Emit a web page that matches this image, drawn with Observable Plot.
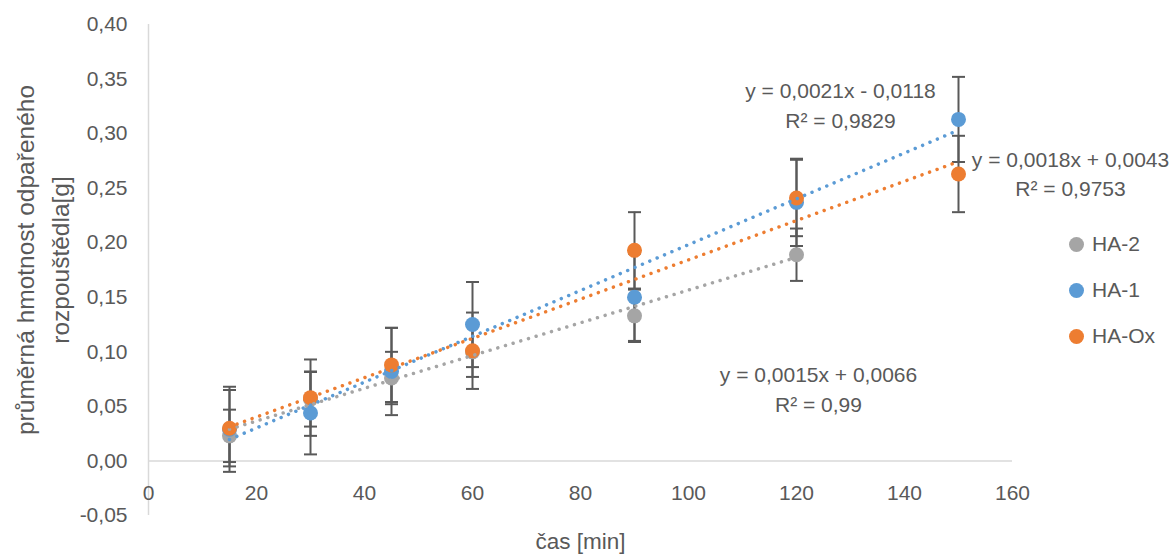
<!DOCTYPE html>
<html>
<head>
<meta charset="utf-8">
<script src="https://cdn.jsdelivr.net/npm/d3@7"></script>
<script src="https://cdn.jsdelivr.net/npm/@observablehq/plot@0.6"></script>
<style>
  body { margin: 0; background: #fff; }
  #chart { position: relative; width: 1175px; height: 556px; font-family: "Liberation Sans", Arial, sans-serif; color: #595959; }
  #legend { position: absolute; left: 1069px; top: 221px; }
  .item { display: flex; align-items: center; height: 46px; font-size: 21px; }
  .swatch { width: 15px; height: 15px; border-radius: 50%; margin-right: 8px; }
</style>
</head>
<body>
<div id="chart"><div id="legend"></div></div>
<script>
// Sampling times [min]
const times = [15, 30, 45, 60, 90, 120, 150];
const seriesNames = ["HA-2", "HA-1", "HA-Ox"];
const seriesColors = ["#A5A5A5", "#5B9BD5", "#ED7D31"];

// Mean evaporated solvent mass [g] per series (null = not measured)
const ha2Mass = [0.023, 0.0565, 0.076, 0.100, 0.133, 0.189, null];
const ha1Mass = [0.029, 0.044, 0.082, 0.125, 0.150, 0.237, 0.313];
const haOxMass = [0.030, 0.058, 0.088, 0.101, 0.193, 0.241, 0.263];

// Error bar half-widths [g]
const ha2Err = [0.024, 0.025, 0.024, 0.023, 0.024, 0.024, null];
const ha1Err = [0.039, 0.038, 0.040, 0.039, 0.040, 0.040, 0.039];
const haOxErr = [0.035, 0.035, 0.034, 0.035, 0.035, 0.035, 0.035];

// Linear trend coefficients and R²
const slopes = [0.0015, 0.0021, 0.0018];
const intercepts = [0.0066, -0.0118, 0.0043];
const rSquared = [0.99, 0.9829, 0.9753];

const xTicks = [0, 20, 40, 60, 80, 100, 120, 140, 160];
const yTicks = [-0.05, 0, 0.05, 0.10, 0.15, 0.20, 0.25, 0.30, 0.35, 0.40];

const xTitle = "čas [min]";
const yTitle = "průměrná hmotnost odpařeného\nrozpouštědla[g]";

const masses = [ha2Mass, ha1Mass, haOxMass];
const errors = [ha2Err, ha1Err, haOxErr];

const comma = (v, n) => v.toFixed(n).replace(".", ",");

// Long table of measured points
const rows = [];
masses.forEach((m, i) => {
  m.forEach((v, j) => {
    if (v != null) rows.push({s: i, x: times[j], y: v, e: errors[i][j]});
  });
});

// Trend lines from the fitted equations, over each series' measured range
const trend = [];
seriesNames.forEach((name, i) => {
  const xs = rows.filter(r => r.s === i).map(r => r.x);
  for (const x of [d3.min(xs), d3.max(xs)]) trend.push({s: i, x, y: slopes[i] * x + intercepts[i]});
});

// Equation labels, anchored to a measured point of their series
const eqText = i => {
  const b = intercepts[i];
  return `y = ${comma(slopes[i], 4)}x ${b < 0 ? "-" : "+"} ${comma(Math.abs(b), 4)}\nR² = ${String(rSquared[i]).replace(".", ",")}`;
};
const lastOf = i => rows.filter(r => r.s === i).at(-1);
const eqAnchors = [
  {...lastOf(0), dx: 22, dy: 133},
  {...lastOf(1), dx: -118, dy: -16},
  {...lastOf(2), dx: 112, dy: -2}
];

const capSymbol = {draw(ctx) { ctx.moveTo(-6.5, 0); ctx.lineTo(6.5, 0); }};
const ink = "#595959";
const axisGrey = "#D9D9D9";

const plot = Plot.plot({
  width: 1175,
  height: 556,
  marginLeft: 148,
  marginRight: 163,
  marginTop: 24,
  marginBottom: 41,
  style: {fontFamily: "'Liberation Sans', Arial, sans-serif", fontSize: "21px", color: ink, background: "transparent", overflow: "visible"},
  x: {domain: [0, 160], axis: null},
  y: {domain: [-0.05, 0.40], axis: null},
  marks: [
    Plot.ruleX([0], {stroke: axisGrey, strokeWidth: 1.5}),
    Plot.ruleY([0], {stroke: axisGrey, strokeWidth: 1.5}),
    Plot.axisY(yTicks, {tickSize: 0, tickPadding: 21, fontSize: 21, tickFormat: d => comma(d, 2), label: null}),
    Plot.text(xTicks, {x: d => d, y: () => 0, dy: 32, text: d => String(d), fontSize: 21, fill: ink}),
    Plot.text([xTitle], {frameAnchor: "bottom", dy: 33, text: d => d, fontSize: 22.5, fill: ink}),
    Plot.text([yTitle], {frameAnchor: "left", dx: -108, dy: -10, rotate: -90, textAnchor: "middle", lineAnchor: "middle", text: d => d, fontSize: 24.5, lineHeight: 1.42, fill: ink}),
    // error bars
    Plot.ruleX(rows, {x: "x", y1: d => d.y - d.e, y2: d => d.y + d.e, stroke: ink, strokeWidth: 2}),
    Plot.dot(rows, {x: "x", y: d => d.y + d.e, symbol: capSymbol, stroke: ink, strokeWidth: 2, fill: "none"}),
    Plot.dot(rows, {x: "x", y: d => d.y - d.e, symbol: capSymbol, stroke: ink, strokeWidth: 2, fill: "none"}),
    // measured points
    Plot.dot(rows, {x: "x", y: "y", r: 7.5, fill: d => seriesColors[d.s], stroke: "none"}),
    // dotted trend lines
    ...seriesNames.map((n, i) => Plot.line(trend.filter(t => t.s === i), {
      x: "x", y: "y", stroke: seriesColors[i], strokeWidth: 3.5, strokeDasharray: "0.01 8", strokeLinecap: "round"
    })),
    // trend equations
    ...eqAnchors.map((a, i) => Plot.text([a], {
      x: "x", y: "y", dx: a.dx, dy: a.dy, text: () => eqText(i), fontSize: 21, lineHeight: 1.4, fill: ink, textAnchor: "middle"
    }))
  ]
});

const chart = document.getElementById("chart");
chart.insertBefore(plot, chart.firstChild);

const legend = d3.select("#legend");
seriesNames.forEach((n, i) => {
  const item = legend.append("div").attr("class", "item");
  item.append("div").attr("class", "swatch").style("background", seriesColors[i]);
  item.append("span").text(n);
});
</script>
</body>
</html>
